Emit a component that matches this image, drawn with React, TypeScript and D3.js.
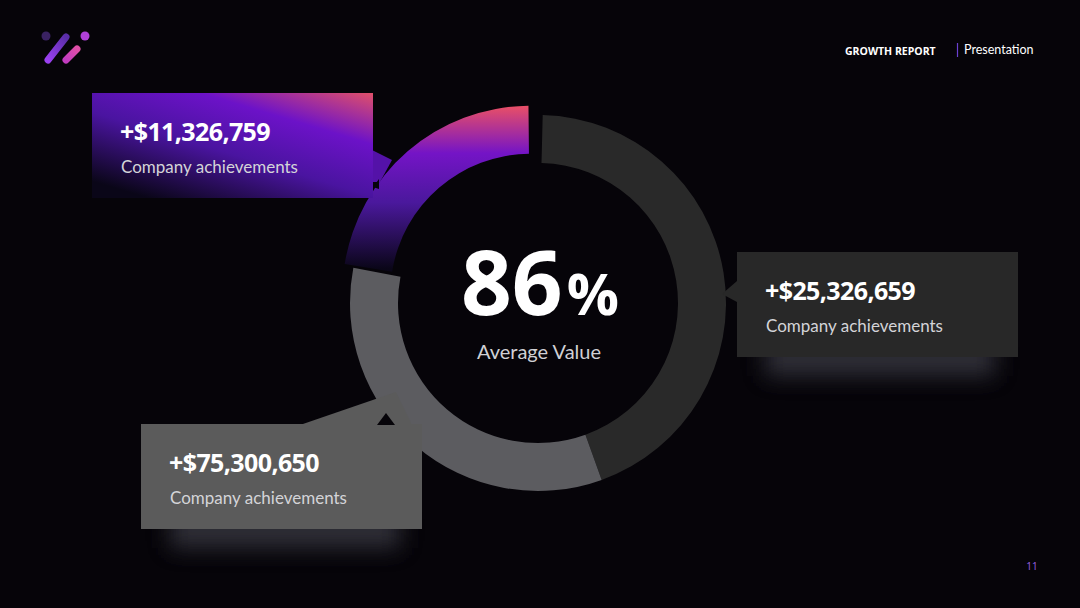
import React from 'react'
import * as d3 from 'd3'

// donut shares (clockwise from 12 o'clock)
const segments = ['right', 'bottom', 'accent']
const segValues = [44.5, 33.5, 22]
const amounts = ['+$25,326,659', '+$75,300,650', '+$11,326,759']
const captions = ['Company achievements', 'Company achievements', 'Company achievements']
const centerValue = 86
const centerLabel = 'Average Value'

const W = 1080
const H = 608

const App = () => {
    const cx = 538
    const cy = 303
    const pie = d3.pie<number>().sort(null).startAngle(0).endAngle(Math.PI * 2)
    const arcs = pie(segValues)
    const arcGen = d3.arc<any>().innerRadius(140).outerRadius(188)

    const fills: Record<string, string> = {
        right: '#292929',
        bottom: '#5c5c60',
        accent: 'url(#accentGrad)',
    }

    const boxes = [
        { key: 'right', x: 737, y: 252, fill: '#282828' },
        { key: 'bottom', x: 141, y: 424, fill: '#5b5b5b' },
        { key: 'accent', x: 92, y: 93, fill: 'url(#boxGrad)' },
    ]

    return (
        <svg width={W} height={H} style={{ display: 'block', position: 'absolute', left: 0, top: 0, background: '#060409' }}>
            <defs>
                {/* in the donut's local space (centre at 0,0) */}
                <linearGradient id="accentGrad" gradientUnits="userSpaceOnUse" x1="0" y1="-190" x2="0" y2="-25">
                    <stop offset="0" stopColor="#ee5262" />
                    <stop offset="0.3" stopColor="#7414c6" />
                    <stop offset="0.6" stopColor="#4a189c" />
                    <stop offset="1" stopColor="#0a0618" />
                </linearGradient>
                <linearGradient id="boxGrad" x1="1" y1="0" x2="0.2" y2="1">
                    <stop offset="0" stopColor="#e0506a" />
                    <stop offset="0.3" stopColor="#6c12c8" />
                    <stop offset="0.6" stopColor="#4a14a0" />
                    <stop offset="1" stopColor="#0a0618" />
                </linearGradient>
                <linearGradient id="logoA" x1="0" y1="1" x2="1" y2="0">
                    <stop offset="0" stopColor="#9a40f0" />
                    <stop offset="1" stopColor="#5a2ea8" />
                </linearGradient>
                <linearGradient id="logoB" x1="0" y1="1" x2="1" y2="0">
                    <stop offset="0" stopColor="#c23cc0" />
                    <stop offset="1" stopColor="#e04fa8" />
                </linearGradient>
                <filter id="glow" x="-30%" y="-100%" width="160%" height="300%">
                    <feGaussianBlur stdDeviation="11" />
                </filter>
            </defs>

            {/* logo */}
            <circle cx={46} cy={36} r={4.5} fill="#3a2262" />
            <line x1={48} y1={60} x2={66} y2={37} stroke="url(#logoA)" strokeWidth={7} strokeLinecap="round" />
            <line x1={66} y1={60} x2={77} y2={49} stroke="url(#logoB)" strokeWidth={7} strokeLinecap="round" />
            <circle cx={85} cy={36} r={4.5} fill="#b040d8" />

            {/* header */}
            <text x={845} y={55} fill="#ffffff" fontFamily="Open Sans" fontWeight={700} fontSize={10.5}>GROWTH REPORT</text>
            <line x1={957.5} y1={43} x2={957.5} y2={57} stroke="#6a40d0" strokeWidth={1.2} />
            <text x={964} y={54} fill="#ffffff" fontFamily="Lato" fontSize={12.5}>Presentation</text>

            {/* glows under boxes */}
            <rect x={765} y={340} width={230} height={36} fill="#3c3c46" opacity={0.75} filter="url(#glow)" />
            <rect x={170} y={512} width={230} height={36} fill="#3c3c46" opacity={0.75} filter="url(#glow)" />

            {/* donut */}
            <g transform={`translate(${cx},${cy})`}>
                {arcs.map((a, i) => {
                    const key = segments[i]
                    let d: any = { ...a }
                    let dx = 0
                    let dy = 0
                    if (key === 'right') d.startAngle = a.startAngle + 0.025
                    if (key === 'accent') {
                        d.endAngle = a.endAngle - 0.01
                        const mid = (a.startAngle + a.endAngle) / 2
                        dx = Math.sin(mid) * 12
                        dy = -Math.cos(mid) * 12
                        d.startAngle = a.startAngle - 0.03
                    }
                    return <path key={key} d={arcGen(d) as string} fill={fills[key]} transform={`translate(${dx},${dy})`} />
                })}
            </g>

            {/* callout tails */}
            <polygon points="737,281 722,294 737,302" fill="#282828" />
            <polygon points="300,425 396,392 412,425" fill="#5b5b5b" />
            <polygon points="372,150 392,160 380,182 372,182" fill="#5412a8" />

            {/* callout boxes */}
            {boxes.map(b => {
                const i = segments.indexOf(b.key)
                return (
                    <g key={b.key}>
                        <rect x={b.x} y={b.y} width={281} height={105} fill={b.fill} />
                        <text x={b.x + 28} y={b.y + 48} fill="#ffffff" fontFamily="Open Sans" fontWeight={700} fontSize={25} letterSpacing={-0.6}>{amounts[i]}</text>
                        <text x={b.x + 29} y={b.y + 80} fill="#d4d4d8" fontFamily="Lato" fontSize={17}>{captions[i]}</text>
                    </g>
                )
            })}
            <polygon points="373,187 379,179 379,189" fill="#060409" />
            <polygon points="377,425 386,413 395,425" fill="#060409" />

            {/* center label */}
            <text x={cx + 2} y={315} textAnchor="middle" fill="#ffffff" fontFamily="Open Sans" fontWeight={700}>
                <tspan fontSize={89}>{centerValue}</tspan>
                <tspan fontSize={58} dx={4}>%</tspan>
            </text>
            <text x={cx + 1} y={359} textAnchor="middle" fill="#d0d0d4" fontFamily="Lato" fontSize={20}>{centerLabel}</text>

            {/* page number */}
            <text x={1032} y={570} textAnchor="middle" fill="#9a62e0" fontFamily="Open Sans" fontSize={10}>11</text>
        </svg>
    )
}

export default App
